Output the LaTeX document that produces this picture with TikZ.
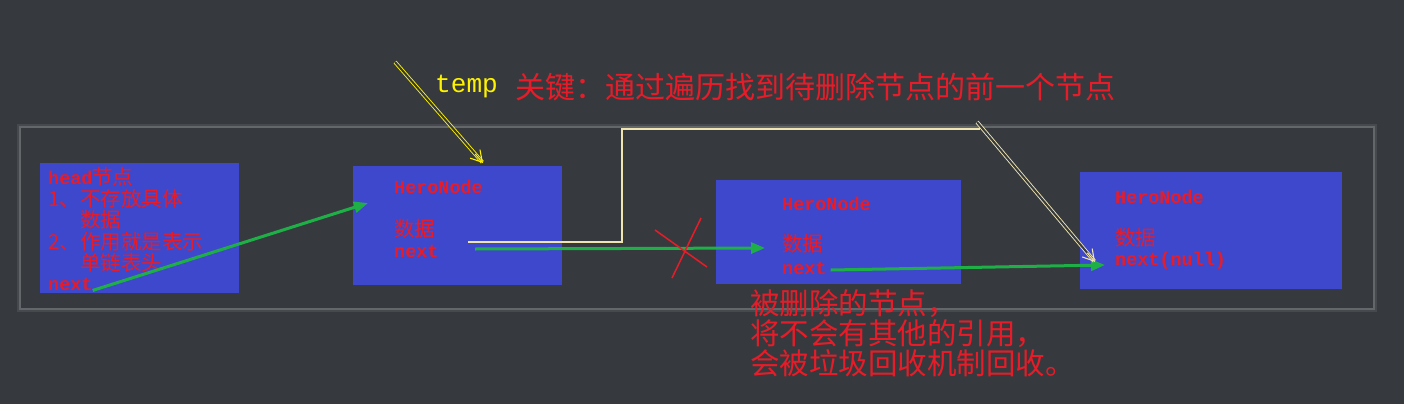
\documentclass[tikz,border=0pt]{standalone}
\usepackage{fontspec}
\setmainfont{Noto Sans CJK SC}
\setmonofont{Liberation Mono}[Scale=0.9]
\usetikzlibrary{arrows.meta,calc}

\definecolor{bgdark}{RGB}{54,58,62}
\definecolor{panelgray}{RGB}{100,103,106}
\definecolor{nodeblue}{RGB}{62,72,204}
\definecolor{txtred}{RGB}{232,28,40}
\definecolor{linkgreen}{RGB}{30,176,70}
\definecolor{tempcream}{RGB}{240,228,176}

\tikzset{
  box/.style={fill=nodeblue, anchor=north west, inner sep=0pt},
  txt/.style={text=txtred, anchor=west, inner sep=0pt,
    font=\fontsize{20.5}{21.6}\selectfont},
  link/.style={linkgreen, line width=3pt, -{Triangle[length=14pt,width=11pt]}},
  pointer/.style={double=bgdark, double distance=2pt, line width=0.9pt, shorten >=1pt},
  pointertip/.style={line width=1.1pt, -{Straight Barb[length=11pt,width=13pt]}},
}

\begin{document}
\begin{tikzpicture}[x=1pt, y=-1pt]
  \useasboundingbox[fill=bgdark] (0,0) rectangle (1404,404);

  % panel
  \draw[panelgray!35!bgdark, line width=6pt] (20,127) rectangle (1374,309);
  \draw[panelgray, line width=1.5pt, fill=bgdark] (20,127) rectangle (1374,309);

  % list nodes
  \node[box, minimum width=199pt, minimum height=130pt] (head) at (40,163) {};
  \node[box, minimum width=209pt, minimum height=119pt] (hero1) at (353,166) {};
  \node[box, minimum width=245pt, minimum height=104pt] (hero2) at (716,180) {};
  \node[box, minimum width=262pt, minimum height=117pt] (hero3) at (1080,172) {};

  % texts in head
  \node[txt, anchor=north west, align=left] (headtxt) at (48,167)
    {{\ttfamily\bfseries head}节点\\1、不存放具体\\\phantom{1、}数据\\
     2、作用就是表示\\\phantom{2、}单链表头};
  \node[txt] (headnext) at (48,284) {\ttfamily\bfseries next};

  % texts in hero nodes
  \node[txt] (name1) at (394,187) {\ttfamily\bfseries HeroNode};
  \node[txt] (data1) at (394,229) {数据};
  \node[txt] (next1) at (394,251) {\ttfamily\bfseries next};

  \node[txt] (name2) at (782,204) {\ttfamily\bfseries HeroNode};
  \node[txt] (data2) at (782,244) {数据};
  \node[txt] (next2) at (782,268) {\ttfamily\bfseries next};

  \node[txt] (name3) at (1115,197) {\ttfamily\bfseries HeroNode};
  \node[txt] (data3) at (1115,238) {数据};
  \node[txt] (next3) at (1115,261) {\ttfamily\bfseries next(null)};

  % notes
  \node[anchor=west, inner sep=0pt, text=yellow,
    font=\fontsize{29}{30}\selectfont] (tempnote) at (435,87) {\ttfamily temp};
  \node[anchor=west, inner sep=0pt, text=txtred,
    font=\fontsize{30}{30}\selectfont] (keynote) at (515,87)
    {关键：通过遍历找到待删除节点的前一个节点};
  \node[anchor=north west, inner sep=0pt, text=txtred, align=left,
    font=\fontsize{29.5}{30}\selectfont] (delnote) at (750,289)
    {被删除的节点，\\将不会有其他的引用，\\会被垃圾回收机制回收。};

  % link ends
  \coordinate (l1end) at (368,203);
  \coordinate (l2start) at (475,249);
  \coordinate (l2end) at (765,248);
  \coordinate (tempstart) at (395,62);
  \coordinate (tempend) at (483,163);
  \coordinate (movestart) at (468,242);
  \coordinate (movetop) at (622,129);
  \coordinate (moveturn) at (980,129);
  \coordinate (movefrom) at (977,122);
  \coordinate (moveend) at (1095,262);

  % next links
  \draw[link] (headnext.south east) -- (l1end);
  \draw[link] (l2start) -- (l2end);
  \draw[link] ([xshift=4pt,yshift=-2pt]next2.east) -- ([xshift=-10pt,yshift=-4pt]next3.west);

  % removed link
  \draw[txtred, line width=1.5pt]
        (655,230) -- (707,267)
        (701,218) -- (672,278);

  % temp moves
  \draw[tempcream, line width=2pt] (movestart) -| (movetop) -- (moveturn);
  \draw[tempcream, pointer] (movefrom) -- (moveend);
  \draw[tempcream, pointertip] ($(moveend)!12pt!(movefrom)$) -- (moveend);
  \draw[yellow, pointer] (tempstart) -- (tempend);
  \draw[yellow, pointertip] ($(tempend)!12pt!(tempstart)$) -- (tempend);
\end{tikzpicture}
\end{document}
